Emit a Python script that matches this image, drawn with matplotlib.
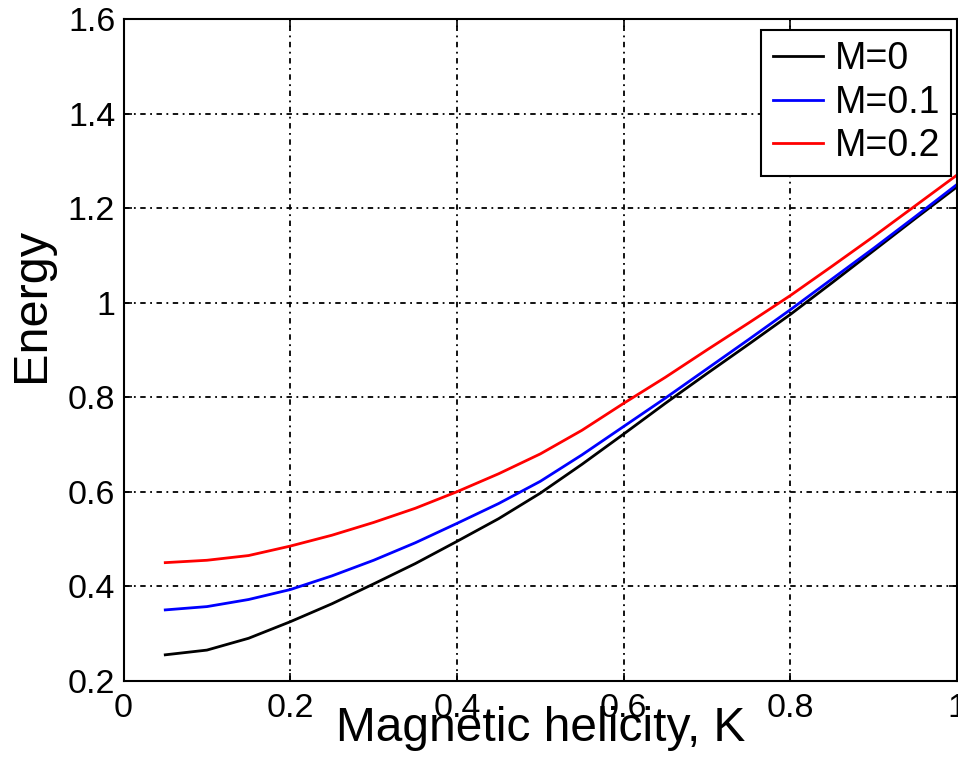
import numpy as np
import matplotlib.pyplot as plt

plt.rcParams['font.family'] = ['Liberation Sans', 'DejaVu Sans']

K = [0.05, 0.1, 0.15, 0.2, 0.25, 0.3, 0.35, 0.4, 0.45, 0.5,
     0.55, 0.6, 0.65, 0.7, 0.75, 0.8, 0.85, 0.9, 0.95, 1.0]
E_M0 = [0.255, 0.265, 0.29, 0.325, 0.363, 0.405, 0.448, 0.495, 0.543, 0.597,
        0.658, 0.722, 0.787, 0.85, 0.912, 0.975, 1.042, 1.11, 1.178, 1.245]
E_M01 = [0.35, 0.357, 0.372, 0.393, 0.422, 0.455, 0.492, 0.533, 0.575, 0.622,
         0.678, 0.738, 0.798, 0.86, 0.922, 0.985, 1.05, 1.115, 1.182, 1.25]
E_M02 = [0.45, 0.455, 0.465, 0.485, 0.508, 0.535, 0.565, 0.6, 0.638, 0.68,
         0.73, 0.787, 0.842, 0.9, 0.957, 1.015, 1.077, 1.14, 1.205, 1.27]
labels = ['M=0', 'M=0.1', 'M=0.2']

fig = plt.figure(figsize=(9.58, 7.59), dpi=100)
ax = fig.add_axes([0.129, 0.103, 0.87, 0.872])

ax.plot(K, E_M0, color='black', lw=2.0, label=labels[0])
ax.plot(K, E_M01, color='#0000ff', lw=2.0, label=labels[1])
ax.plot(K, E_M02, color='#ff0000', lw=2.0, label=labels[2])

ax.set_xlim(0, 1)
ax.set_ylim(0.2, 1.6)
ax.set_xticks([0, 0.2, 0.4, 0.6, 0.8, 1])
ax.set_xticklabels(['0', '0.2', '0.4', '0.6', '0.8', '1'])
ax.set_yticks([0.2, 0.4, 0.6, 0.8, 1.0, 1.2, 1.4, 1.6])
ax.set_yticklabels(['0.2', '0.4', '0.6', '0.8', '1', '1.2', '1.4', '1.6'])
ax.tick_params(direction='in', length=6, width=1.2, labelsize=24.5, top=True, right=True)
ax.tick_params(axis='x', pad=9)
ax.tick_params(axis='y', pad=6)
ax.grid(True, color='black', linestyle=(0, (3, 2.5, 1, 2.5)), lw=1.3)
for s in ax.spines.values():
    s.set_linewidth(1.5)

ax.set_xlabel('Magnetic helicity, K', fontsize=34.5, labelpad=-13)
ax.set_ylabel('Energy', fontsize=35)
ax.yaxis.set_label_coords(-0.083, 0.568)

leg = ax.legend(loc='upper right', bbox_to_anchor=(0.993, 0.983), borderaxespad=0,
                fontsize=27, fancybox=False, framealpha=1, edgecolor='black',
                handlelength=1.35, handletextpad=0.3, labelspacing=0.2, borderpad=0.3)
leg.get_frame().set_linewidth(1.5)

fig.savefig('out.png', dpi=100)
